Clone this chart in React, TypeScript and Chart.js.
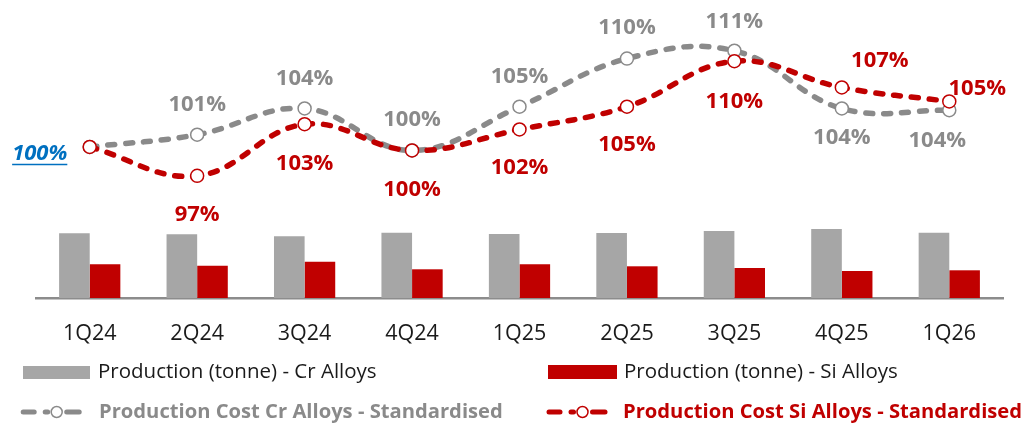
import React, { useEffect, useRef } from "react";
import { Chart, registerables } from "chart.js";

Chart.register(...registerables);

const categories = ["1Q24", "2Q24", "3Q24", "4Q24", "1Q25", "2Q25", "3Q25", "4Q25", "1Q26"];
const productionCr = [64.7, 63.7, 61.7, 65.3, 64, 65, 67, 69, 65.3];
const productionSi = [33.7, 32.3, 36.3, 28.7, 33.7, 31.7, 30, 27, 27.7];
const costCr = [100, 101.4, 104.4, 99.6, 104.6, 110.1, 111, 104.4, 104.2];
const costSi = [100, 96.7, 102.6, 99.6, 102, 104.6, 109.8, 106.8, 105.2];

const legendBarCr = "Production (tonne) - Cr Alloys";
const legendBarSi = "Production (tonne) - Si Alloys";
const legendLineCr = "Production Cost Cr Alloys - Standardised";
const legendLineSi = "Production Cost Si Alloys - Standardised";

const GREY_BAR = "#a6a6a6";
const GREY_LINE = "#8a8a8a";
const RED = "#c00000";
const BLUE = "#0070c0";
const FONT = "'Open Sans', 'Noto Sans', sans-serif";

// label placement (style): [dx, dy] relative to point, null = no label
const greyLabelOffsets: ([number, number] | null)[] = [
  null, [0, -30], [0, -30], [0, -31], [0, -30], [0, -31], [0, -29], [0, 29], [-12, 30],
];
const redLabelOffsets: ([number, number] | null)[] = [
  null, [0, 39], [0, 39], [0, 39], [0, 38], [0, 38], [0, 40], [38, -27], [28, -13],
];

const labelPlugin = {
  id: "pointLabels",
  afterDatasetsDraw(chart: any) {
    const ctx = chart.ctx;
    ctx.save();
    ctx.textAlign = "center";
    ctx.textBaseline = "middle";
    const draw = (dsIndex: number, offsets: ([number, number] | null)[], color: string) => {
      const meta = chart.getDatasetMeta(dsIndex);
      const values = chart.data.datasets[dsIndex].data as number[];
      meta.data.forEach((pt: any, i: number) => {
        const off = offsets[i];
        if (!off) return;
        ctx.font = `bold 22px ${FONT}`;
        ctx.fillStyle = color;
        ctx.fillText(`${Math.round(values[i])}%`, pt.x + off[0], pt.y + off[1]);
      });
    };
    draw(0, redLabelOffsets, RED);
    draw(1, greyLabelOffsets, GREY_LINE);

    // base point label (italic, underlined, blue) to the left of first point
    const meta = chart.getDatasetMeta(0);
    const p0 = meta.data[0];
    if (p0) {
      const txt = `${Math.round(costSi[0])}%`;
      ctx.font = `italic bold 22px ${FONT}`;
      ctx.fillStyle = BLUE;
      const cx = p0.x - 50;
      const cy = p0.y + 7;
      ctx.fillText(txt, cx, cy);
      const w = ctx.measureText(txt).width;
      ctx.strokeStyle = BLUE;
      ctx.lineWidth = 1.5;
      ctx.beginPath();
      ctx.moveTo(cx - w / 2, cy + 10.5);
      ctx.lineTo(cx + w / 2, cy + 10.5);
      ctx.stroke();
    }
    ctx.restore();
  },
};

const legendPlugin = {
  id: "customLegend",
  afterDraw(chart: any) {
    const ctx = chart.ctx;
    ctx.save();
    ctx.textAlign = "left";
    ctx.textBaseline = "middle";
    // row 1: bars
    ctx.fillStyle = GREY_BAR;
    ctx.fillRect(23, 366, 67, 13);
    ctx.fillStyle = RED;
    ctx.fillRect(548, 365, 69, 14);
    ctx.font = `20.5px ${FONT}`;
    ctx.fillStyle = "#1a1a1a";
    ctx.fillText(legendBarCr, 98, 372);
    ctx.fillText(legendBarSi, 624, 372);

    // row 2: lines
    const marker = (x0: number, color: string) => {
      const y = 412;
      ctx.strokeStyle = color;
      ctx.lineWidth = 5;
      ctx.lineCap = "round";
      const segs = [[2.5, 13.5], [24.5, 27], [46, 58.5]];
      segs.forEach(([a, b]) => {
        ctx.beginPath();
        ctx.moveTo(x0 + a, y);
        ctx.lineTo(x0 + b, y);
        ctx.stroke();
      });
      ctx.beginPath();
      ctx.arc(x0 + 36, y, 5.5, 0, Math.PI * 2);
      ctx.fillStyle = "#ffffff";
      ctx.fill();
      ctx.lineWidth = 1.5;
      ctx.stroke();
    };
    marker(20.7, GREY_LINE);
    marker(546.5, RED);
    ctx.font = `bold 20.2px ${FONT}`;
    ctx.fillStyle = GREY_LINE;
    ctx.fillText(legendLineCr, 99, 412.5);
    ctx.fillStyle = RED;
    ctx.fillText(legendLineSi, 623, 412.5);
    ctx.restore();
  },
};

export default function App() {
  const canvasRef = useRef<HTMLCanvasElement | null>(null);

  useEffect(() => {
    document.body.style.margin = "0";
    const canvas = canvasRef.current;
    if (!canvas) return;
    const lineCommon = {
      type: "line" as const,
      yAxisID: "y2",
      borderWidth: 5.5,
      borderDash: [7, 11],
      borderCapStyle: "round" as const,
      tension: 0.4,
      pointRadius: 6.5,
      pointBorderWidth: 1.5,
      pointBackgroundColor: "#ffffff",
      fill: false,
      clip: false as any,
    };
    const chart = new Chart(canvas, {
      type: "bar",
      data: {
        labels: categories,
        datasets: [
          {
            ...lineCommon,
            label: legendLineSi,
            data: costSi,
            borderColor: RED,
            pointBorderColor: RED,
            order: 0,
          } as any,
          {
            ...lineCommon,
            label: legendLineCr,
            data: costCr,
            borderColor: GREY_LINE,
            pointBorderColor: GREY_LINE,
            order: 1,
          } as any,
          {
            type: "bar",
            label: legendBarCr,
            data: productionCr,
            backgroundColor: GREY_BAR,
            yAxisID: "y",
            order: 2,
            barPercentage: 1,
            categoryPercentage: 0.57,
          },
          {
            type: "bar",
            label: legendBarSi,
            data: productionSi,
            backgroundColor: RED,
            yAxisID: "y",
            order: 3,
            barPercentage: 1,
            categoryPercentage: 0.57,
          },
        ],
      },
      options: {
        responsive: false,
        animation: false,
        layout: { autoPadding: false, padding: { left: 36, right: 26, top: 0, bottom: 0 } },
        plugins: {
          legend: { display: false },
          tooltip: { enabled: false },
        },
        scales: {
          x: {
            grid: { display: false, drawTicks: false },
            border: { display: true, color: "#8c8c8c", width: 2.5 },
            ticks: {
              padding: 23,
              color: "#1a1a1a",
              font: { family: FONT, size: 21.5 },
              maxRotation: 0,
            },
            afterFit: (scale: any) => {
              scale.height = 126;
            },
          },
          y: {
            display: false,
            min: 0,
            max: 298,
          },
          y2: {
            display: false,
            min: 82.74,
            max: 116.8,
          },
        },
      },
      plugins: [labelPlugin, legendPlugin],
    });
    return () => chart.destroy();
  }, []);

  return (
    <div style={{ width: 1029, height: 424 }}>
      <canvas ref={canvasRef} width={1029} height={424} />
    </div>
  );
}
